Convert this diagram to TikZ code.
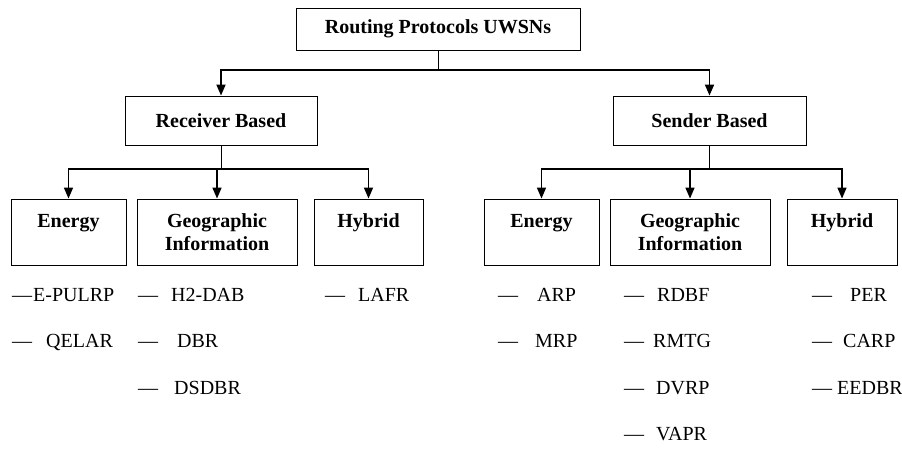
\documentclass[tikz,border=0pt]{standalone}
\usepackage{fontspec}
\setmainfont{Liberation Serif}
\usetikzlibrary{arrows.meta}
\tikzset{
	box/.style={draw, line width=0.9pt, inner sep=0pt, align=center, font=\fontsize{20}{23}\selectfont\bfseries},
	item/.style={anchor=base west, inner sep=0pt, font=\fontsize{20}{23}\selectfont},
	stem/.style={line width=0.9pt},
	fork/.style={line width=1.5pt, -{Triangle[length=11pt,width=9pt]}}
}

\begin{document}
\begin{tikzpicture}[x=1pt, y=-1pt]
			%%%%% START %%%%%
			\useasboundingbox (0, 0) rectangle (902, 475);
			
			\node[box, minimum width=284, minimum height=42] (root) at (438, 29) {Routing Protocols UWSNs};
			
			\node[box, minimum width=192, minimum height=49] (recv) at (221, 120.5) {Receiver Based};
			\node[box, minimum width=193, minimum height=49] (send) at (709.5, 120.5) {Sender Based};
			
			\node[box, minimum width=115, minimum height=66] (rEn) at (68.5, 232) {Energy\\ \mbox{}};
			\node[box, minimum width=160, minimum height=66] (rGeo) at (217, 232) {Geographic\\Information};
			\node[box, minimum width=109, minimum height=66] (rHyb) at (368.5, 232) {Hybrid\\ \mbox{}};
			
			\node[box, minimum width=115, minimum height=66] (sEn) at (541.5, 232) {Energy\\ \mbox{}};
			\node[box, minimum width=160, minimum height=66] (sGeo) at (690, 232) {Geographic\\Information};
			\node[box, minimum width=110, minimum height=66] (sHyb) at (842, 232) {Hybrid\\ \mbox{}};
			
			\coordinate (topfork) at (438, 70);
			\coordinate (rfork) at (221, 169);
			\coordinate (sfork) at (709.5, 169);
			
			\draw[stem] (root) -- (topfork);
			\draw[fork, line width=1.8pt] (topfork) -| (recv);
			\draw[fork, line width=1.8pt] (topfork) -| (send);
			
			\draw[stem] (recv) -- (rfork);
			\draw[fork] (rfork) -| (rEn);
			\draw[fork] (rfork) -| (rGeo);
			\draw[fork] (rfork) -| (rHyb);
			
			\draw[stem] (send) -- (sfork);
			\draw[fork] (sfork) -| (sEn);
			\draw[fork] (sfork) -| (sGeo);
			\draw[fork] (sfork) -| (sHyb);
			
			% receiver based protocols
			\node[item] (ePULRP) at (12, 301) {---\hspace{1pt}E-PULRP};
			\node[item] (qELAR) at (12, 347) {---\hspace{14pt}QELAR};
			\node[item] (hDAB) at (138, 301) {---\hspace{13pt}H2-DAB};
			\node[item] (dBR) at (138, 347) {---\hspace{19pt}DBR};
			\node[item] (dSDBR) at (138, 394) {---\hspace{16pt}DSDBR};
			\node[item] (lAFR) at (325, 301) {---\hspace{13pt}LAFR};
			
			% sender based protocols
			\node[item] (aRP) at (498, 301) {---\hspace{19pt}ARP};
			\node[item] (mRP) at (498, 347) {---\hspace{17pt}MRP};
			\node[item] (rDBF) at (624, 301) {---\hspace{13pt}RDBF};
			\node[item] (rMTG) at (624, 347) {---\hspace{9pt}RMTG};
			\node[item] (dVRP) at (624, 394) {---\hspace{12pt}DVRP};
			\node[item] (vAPR) at (624, 440) {---\hspace{12pt}VAPR};
			\node[item] (pER) at (812, 301) {---\hspace{18pt}PER};
			\node[item] (cARP) at (812, 347) {---\hspace{11pt}CARP};
			\node[item] (eEDBR) at (812, 394) {---\hspace{5pt}EEDBR};
			%%%%% END %%%%%
\end{tikzpicture}
\end{document}
